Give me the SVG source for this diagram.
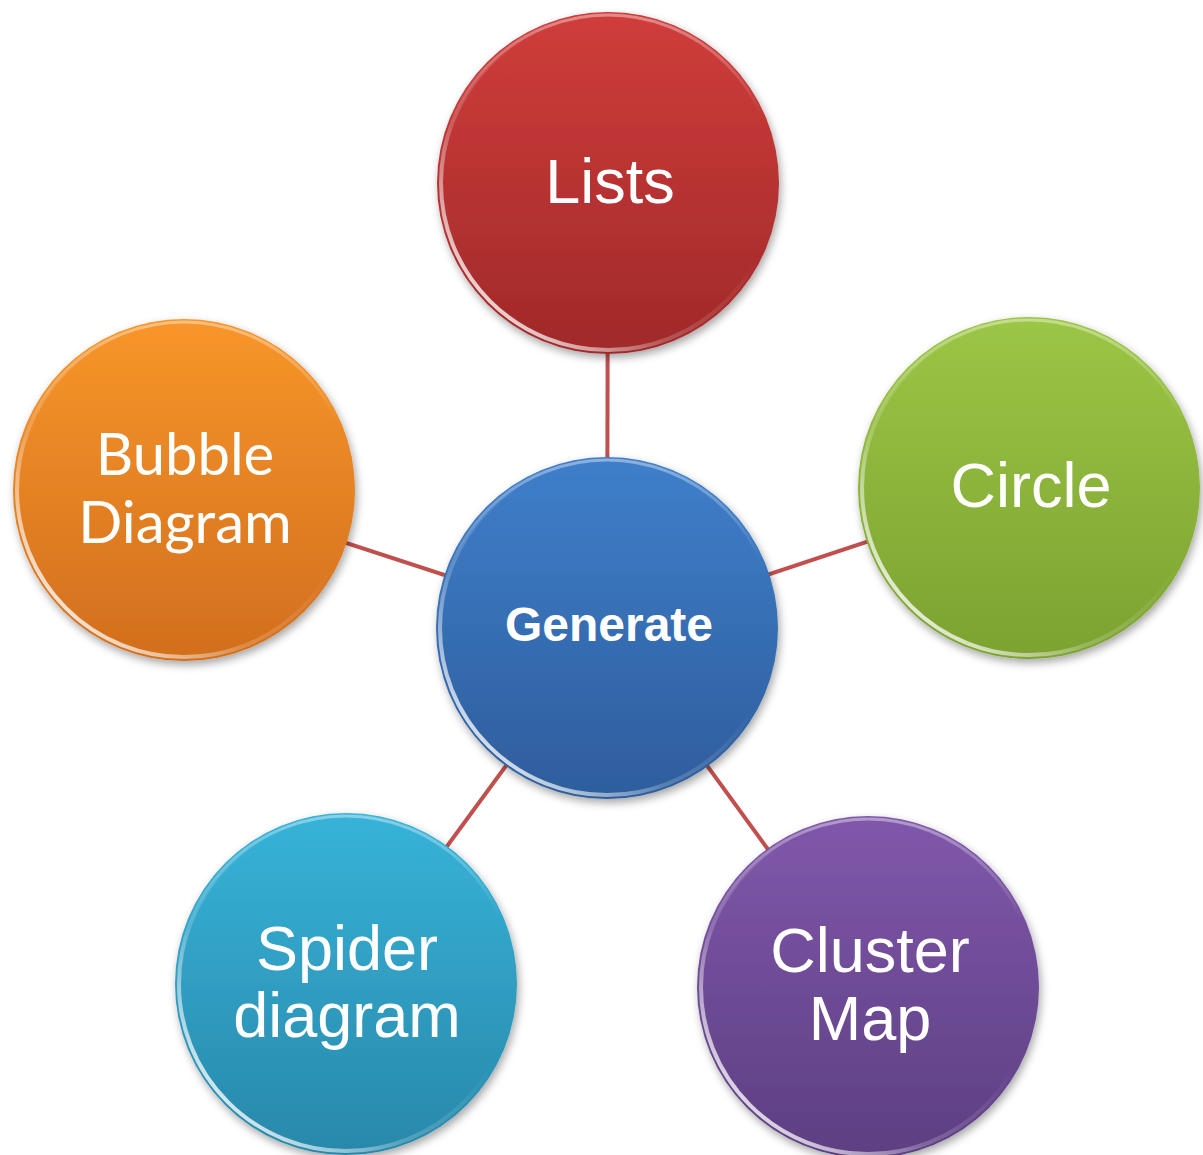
<svg xmlns="http://www.w3.org/2000/svg" width="1203" height="1155" viewBox="0 0 1203 1155">
<style>
.conn{stroke:#C0504D;stroke-width:4;fill:none}
.lbl{fill:#FFFFFF;font-family:"Liberation Sans",Arial,sans-serif;font-size:63px;text-anchor:middle}
.cal{font-family:Lato,"Open Sans",sans-serif;font-size:58px}
.bold{font-weight:bold;font-size:48px}
.rim{fill:none;stroke:url(#rim);stroke-width:4}
.rimtop{fill:none;stroke:url(#rimtop);stroke-width:3}
</style>
<defs>
<filter id="sh" x="-20%" y="-20%" width="140%" height="140%">
<feDropShadow dx="2" dy="4" stdDeviation="4" flood-color="#000" flood-opacity="0.35"/>
</filter>
<linearGradient id="gRed" x1="0" y1="0" x2="0" y2="1"><stop offset="0" stop-color="#D03D3B"/><stop offset="1" stop-color="#A02929"/></linearGradient>
<linearGradient id="gOrg" x1="0" y1="0" x2="0" y2="1"><stop offset="0" stop-color="#F8962A"/><stop offset="1" stop-color="#D26E1E"/></linearGradient>
<linearGradient id="gGrn" x1="0" y1="0" x2="0" y2="1"><stop offset="0" stop-color="#9CC645"/><stop offset="1" stop-color="#7CA231"/></linearGradient>
<linearGradient id="gBlu" x1="0" y1="0" x2="0" y2="1"><stop offset="0" stop-color="#3F7FCB"/><stop offset="1" stop-color="#2E5D9C"/></linearGradient>
<linearGradient id="gCyn" x1="0" y1="0" x2="0" y2="1"><stop offset="0" stop-color="#37B3D9"/><stop offset="1" stop-color="#2888AA"/></linearGradient>
<linearGradient id="gPur" x1="0" y1="0" x2="0" y2="1"><stop offset="0" stop-color="#8058AB"/><stop offset="1" stop-color="#5D3E82"/></linearGradient>
<linearGradient id="rim" x1="0.1" y1="0.9" x2="0.6" y2="0.4"><stop offset="0" stop-color="#FFFFFF" stop-opacity="0.9"/><stop offset="0.5" stop-color="#FFFFFF" stop-opacity="0.2"/><stop offset="1" stop-color="#FFFFFF" stop-opacity="0"/></linearGradient>
<linearGradient id="rimtop" x1="0.5" y1="0" x2="0.5" y2="0.3"><stop offset="0" stop-color="#FFFFFF" stop-opacity="0.4"/><stop offset="1" stop-color="#FFFFFF" stop-opacity="0"/></linearGradient>
</defs>
<g id="connectors">
<line class="conn" x1="607" y1="628" x2="608" y2="183"/>
<line class="conn" x1="607" y1="628" x2="184" y2="490"/>
<line class="conn" x1="607" y1="628" x2="1029" y2="488"/>
<line class="conn" x1="607" y1="628" x2="346" y2="984"/>
<line class="conn" x1="607" y1="628" x2="868" y2="987"/>
</g>
<g id="node-lists">
<circle cx="608" cy="183" r="171" fill="url(#gRed)" filter="url(#sh)"/>
<circle class="rim" cx="608" cy="183" r="167"/>
<circle class="rimtop" cx="608" cy="183" r="168"/>
<text class="lbl" x="610" y="203">Lists</text>
</g>
<g id="node-bubble">
<circle cx="184" cy="490" r="171" fill="url(#gOrg)" filter="url(#sh)"/>
<circle class="rim" cx="184" cy="490" r="167"/>
<circle class="rimtop" cx="184" cy="490" r="168"/>
<text class="lbl cal" x="185" y="475">Bubble</text>
<text class="lbl cal" x="185" y="543">Diagram</text>
</g>
<g id="node-circle">
<circle cx="1029" cy="488" r="171" fill="url(#gGrn)" filter="url(#sh)"/>
<circle class="rim" cx="1029" cy="488" r="167"/>
<circle class="rimtop" cx="1029" cy="488" r="168"/>
<text class="lbl" x="1031" y="507">Circle</text>
</g>
<g id="node-generate">
<circle cx="607" cy="628" r="171" fill="url(#gBlu)" filter="url(#sh)"/>
<circle class="rim" cx="607" cy="628" r="167"/>
<circle class="rimtop" cx="607" cy="628" r="168"/>
<text class="lbl bold" x="609" y="641">Generate</text>
</g>
<g id="node-spider">
<circle cx="346" cy="984" r="171" fill="url(#gCyn)" filter="url(#sh)"/>
<circle class="rim" cx="346" cy="984" r="167"/>
<circle class="rimtop" cx="346" cy="984" r="168"/>
<text class="lbl" x="347" y="970">Spider</text>
<text class="lbl" x="347" y="1037">diagram</text>
</g>
<g id="node-cluster">
<circle cx="868" cy="987" r="171" fill="url(#gPur)" filter="url(#sh)"/>
<circle class="rim" cx="868" cy="987" r="167"/>
<circle class="rimtop" cx="868" cy="987" r="168"/>
<text class="lbl" x="870" y="972">Cluster</text>
<text class="lbl" x="870" y="1040">Map</text>
</g>
</svg>
